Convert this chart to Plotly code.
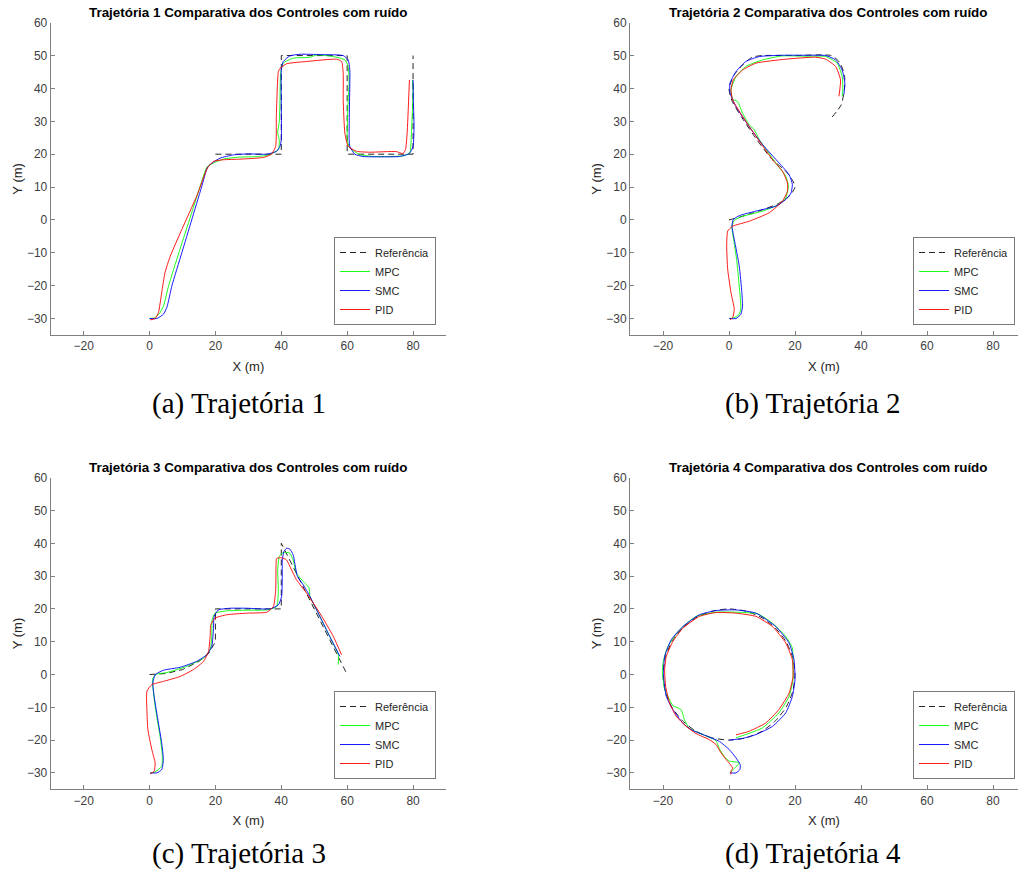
import plotly.graph_objects as go

# ---------------- Data ----------------
# Trajectory 1
t1_ref_x = [20, 40, 40, 60, 60, 80, 80]
t1_ref_y = [20, 20, 50, 50, 20, 20, 50]
t1_mpc_x = [0, 1.5, 3.0, 4.3, 5.8, 8.9, 12.1, 15.3, 17.5, 19.4, 22.4, 27, 33, 36.6, 39.1, 39.4, 38.9, 39.4, 39.6, 39.8, 40.6, 43.6, 48.7, 50.7, 55.8, 59.3, 60.3, 60.6, 60.3, 60.1, 60, 60.8, 63.8, 67.9, 73, 77, 79, 79.5, 79.8, 80, 79.8]
t1_mpc_y = [-30, -29.8, -28.5, -26, -20, -10, 0, 10, 16.2, 17.3, 18.5, 19.1, 19.3, 19.9, 21.4, 24.4, 26.4, 30, 36.5, 44.6, 47.7, 49.2, 49.5, 50.2, 49.7, 48.7, 46.7, 41.6, 36.5, 30, 24.4, 21.9, 19.9, 19.3, 19.3, 19.5, 20.4, 26.4, 33, 40, 42.6]
t1_smc_x = [0, 2.2, 4.2, 5.3, 6.8, 9.8, 12.8, 15.8, 17.6, 19.4, 21.4, 25.5, 30, 35.6, 38.6, 39.6, 40, 40, 40, 40.6, 42.6, 45.7, 52, 58.8, 60.3, 60.8, 60.7, 60.6, 60.8, 62.3, 64.8, 70, 75.9, 78.9, 80, 80.3, 80.1, 80]
t1_smc_y = [-30, -30, -28.7, -26.5, -20, -10, 0, 10, 16.0, 17.6, 18.8, 19.8, 20.1, 20, 20.9, 22.4, 24.4, 35, 45.6, 48.2, 49.9, 50.4, 50.3, 50, 48.7, 45.6, 35, 24.4, 22.4, 20, 19.3, 19.2, 19.3, 20.2, 22.4, 28.5, 36, 42.6]
t1_pid_x = [0.2, 1.7, 2.7, 3.7, 4.7, 6.3, 9.8, 14.3, 17.6, 19.4, 22.4, 27.5, 34.5, 37, 38.3, 38.5, 39.1, 39.6, 41.6, 47.7, 56.8, 58.3, 58.8, 58.8, 59.3, 60.3, 62.8, 66.8, 74.9, 76.9, 77.7, 78.2, 78.9]
t1_pid_y = [-30.4, -30, -28.2, -22.1, -16, -11, -2.9, 7.2, 15.8, 17.8, 18.3, 18.5, 19, 20, 22.4, 31.5, 45.1, 46.1, 47.5, 48.2, 48.9, 48.2, 44.6, 36.5, 26.4, 22.4, 20.9, 20.6, 20.8, 20.2, 21.4, 26.4, 42.6]

# Trajectory 2
t2_ref_x = [0, 3, 9, 15, 18.5, 20, 19, 17, 13, 8, 4, 1, 0, 1.5, 4, 7, 10, 20, 31, 33.5, 35, 35, 34, 31]
t2_ref_y = [0, 0.8, 2.7, 5, 7.5, 10, 12.5, 15, 18.5, 25, 31, 36, 40, 44, 47, 49.5, 50, 50, 50, 48, 44, 40, 35, 31]
t2_mpc_x = [0.1, 1.5, 3.1, 3.6, 3.1, 2.3, 1.1, 0.9, 1.6, 4.1, 10.2, 15.2, 17.2, 18, 17.2, 14.2, 9.2, 7.7, 6.1, 4.1, 2.6, 1.1, 0.6, 2.1, 5.1, 10.2, 16.2, 23, 29.3, 32.8, 34.3, 34.5, 34.3]
t2_mpc_y = [-30, -29.8, -28.7, -26.7, -20.1, -12, -3.9, -1.9, -0.1, 1.1, 2.7, 4.7, 6.7, 10.2, 13.3, 17.3, 24.4, 27.4, 29, 32.5, 36, 36.7, 39.6, 43.6, 46.7, 48.7, 49.9, 49.8, 49.7, 47.7, 43.6, 39.6, 37.6]
t2_smc_x = [0.1, 2.1, 3.6, 4.1, 3.9, 3.1, 1.6, 0.9, 1.3, 3.1, 8.2, 14.2, 17.2, 18.8, 19.2, 18.2, 15.2, 10.2, 6.1, 2.1, 0.3, 0.3, 2.1, 5.1, 9.2, 16.2, 23, 29.3, 32.3, 34.3, 35.1, 34.8]
t2_smc_y = [-30, -30, -28.7, -26.2, -22.1, -14, -5.9, -1.9, 0.1, 1.3, 2.7, 4.2, 6.2, 8.2, 10.8, 13.8, 17.3, 22.9, 28.4, 34.5, 38.6, 41.6, 45.1, 48.2, 49.7, 50.1, 50.1, 50, 48.7, 45.6, 41.6, 38.1]
t2_pid_x = [0.3, 1.1, 1.6, 0.6, -0.4, -0.7, -0.4, 1.1, 6.1, 12.2, 16.2, 17.7, 17.7, 16.2, 13.2, 8.2, 4.1, 1.1, 0.6, 1.3, 4.1, 8.2, 17.2, 26.3, 29.3, 32.3, 33.8, 33.3]
t2_pid_y = [-30.4, -29.7, -27.2, -22.1, -15, -8, -3.4, -1.9, -0.4, 2.2, 5.7, 8.7, 11.3, 14.8, 18.3, 25.4, 31.5, 36.5, 39.6, 42.6, 45.6, 47.7, 48.9, 49.5, 48.9, 46.7, 42.6, 37.6]

# Trajectory 3
t3_ref_x = [0, 5, 10, 15, 18, 20, 20, 40, 40, 60]
t3_ref_y = [0, 0.3, 1.5, 4, 6.5, 10, 20, 20, 40, 0]
t3_mpc_x = [0.2, 1.5, 3.7, 3.9, 3.2, 2, 1, 1, 2.2, 5.3, 11.3, 16.4, 18.4, 18.9, 19, 19.9, 23.4, 29.5, 35.6, 38.6, 39.1, 38.9, 39.4, 40.6, 42.6, 43.6, 44.6, 46.7, 48.4, 48.7, 50.7, 52.7, 54.7, 57.3, 57.3]
t3_mpc_y = [-30, -29.8, -28, -24.9, -18.8, -11.7, -3.6, -1.1, 0.1, 0.6, 2.5, 5, 7.5, 11.6, 16.7, 18.7, 19.4, 19.6, 19.7, 20.7, 25.8, 31.9, 36, 37.2, 37, 34.9, 30.9, 28.3, 26.5, 23.8, 19.7, 15.7, 11.6, 6, 3]
t3_smc_x = [0.2, 2.2, 3.7, 4.2, 3.7, 2.7, 1.4, 1, 1.7, 4.2, 9.3, 14.3, 17.4, 18.9, 19.4, 19.6, 20.9, 24.4, 29.5, 36.6, 39.1, 40.1, 40.3, 40.3, 40.8, 41.6, 42.6, 43.6, 44.1, 44.9, 46.7, 48.7, 51.7, 54.7, 57.8]
t3_smc_y = [-30, -30, -29, -26, -20.9, -14.8, -6.7, -2.6, -0.1, 1.3, 2.2, 4, 6, 8.6, 13.6, 17.7, 19.7, 20.2, 20.2, 20, 21.2, 23.8, 30.9, 34.9, 37.5, 38.5, 38.2, 36.5, 33.9, 29.9, 27.3, 23.8, 17.7, 11.6, 5.5]
t3_pid_x = [0.2, 1.4, 1.7, 0.7, -0.5, -0.8, -0.8, 0.7, 4.2, 9.3, 13.3, 16.4, 17.9, 18.4, 18.6, 19.9, 23.4, 29.5, 35.6, 37.6, 38.3, 38.4, 38.6, 40.1, 41.6, 43.1, 44.6, 47.7, 51.7, 55.8, 58.3]
t3_pid_y = [-30.3, -29.5, -27, -22.9, -16.8, -10.7, -5.1, -3.1, -2.1, -0.6, 1.5, 4, 7, 11.6, 15.2, 17.2, 18.2, 18.7, 19, 20.7, 25.8, 32.9, 35.4, 35.6, 34.9, 31.9, 28.9, 24.8, 18.7, 11.6, 6]

# Trajectory 4
t4_ref_x = [0, -5.2, -10, -14.1, -17.3, -19.3, -20, -19.3, -17.3, -14.1, -10, -5.2, 0, 5.2, 10, 14.1, 17.3, 19.3, 20, 19.3, 17.3, 14.1, 10, 5.2, 0]
t4_ref_y = [-20, -19.3, -17.3, -14.1, -10, -5.2, 0, 5.2, 10, 14.1, 17.3, 19.3, 20, 19.3, 17.3, 14.1, 10, 5.2, 0, -5.2, -10, -14.1, -17.3, -19.3, -20]
t4_mpc_x = [0.3, 1.3, 3.1, 1.5, 0.1, -1.4, -2.9, -4.1, -6.9, -12, -13.5, -14.5, -17, -18.5, -19.5, -20.2, -19.8, -18.5, -15, -10, -3.9, 2.1, 8.7, 13.2, 17.2, 19.2, 19.4, 19.4, 18.2, 15.1, 10.1, 5.1, 2.1]
t4_mpc_y = [-30, -29, -26.9, -26.6, -26.4, -25.1, -22.6, -20, -18.8, -16.4, -13.8, -10.7, -9.5, -6.7, -4.6, 1.5, 4.5, 8.6, 13.6, 17.7, 19, 19, 18.5, 15.6, 11.6, 8.1, 4.5, -1.6, -6.7, -11.7, -16.3, -18.3, -19.3]
t4_smc_x = [0.3, 2.1, 3.3, 3.4, 2.1, 0.1, -2.9, -6.9, -11.5, -14, -17, -19, -19.8, -19.5, -17.5, -14, -9, -3.9, 2.1, 8.2, 14.2, 18.2, 19.7, 20, 19.2, 17.2, 13.2, 8.2, 4.1, 0.1]
t4_smc_y = [-30, -30, -29, -27.5, -25.4, -22.9, -20.4, -18.7, -16.8, -14.8, -10.7, -6.7, -0.6, 5.5, 10.6, 14.6, 18.2, 19.5, 19.7, 18.7, 14.6, 9.6, 4.5, -1.6, -6.7, -11.7, -15.8, -18.3, -19.5, -20]
t4_pid_x = [0.6, 0.6, 1.1, -0.4, -2.4, -3.9, -5.9, -10, -13, -16, -18, -19.2, -19.5, -19, -17, -14, -9, -3.9, 2.1, 8.2, 13.2, 17.2, 19.2, 19.4, 18.2, 15.1, 11.1, 6.1, 2.1]
t4_pid_y = [-30.5, -29.5, -28.5, -26.5, -23.9, -21.4, -19.9, -18, -15.8, -12.7, -8.7, -3.6, 1.5, 5.5, 10.1, 14.1, 17.7, 18.9, 18.7, 17.7, 14.6, 9.6, 4.5, -0.7, -5.7, -10.7, -14.8, -17.3, -18.4]

series_names = ["Referência", "MPC", "SMC", "PID"]
titles = ["Trajetória 1 Comparativa dos Controles com ruído",
          "Trajetória 2 Comparativa dos Controles com ruído",
          "Trajetória 3 Comparativa dos Controles com ruído",
          "Trajetória 4 Comparativa dos Controles com ruído"]
captions = ["(a) Trajetória 1", "(b) Trajetória 2", "(c) Trajetória 3", "(d) Trajetória 4"]
x_ticks = [-20, 0, 20, 40, 60, 80]
y_ticks = [-30, -20, -10, 0, 10, 20, 30, 40, 50, 60]

panels = [
    (t1_ref_x, t1_ref_y, t1_mpc_x, t1_mpc_y, t1_smc_x, t1_smc_y, t1_pid_x, t1_pid_y),
    (t2_ref_x, t2_ref_y, t2_mpc_x, t2_mpc_y, t2_smc_x, t2_smc_y, t2_pid_x, t2_pid_y),
    (t3_ref_x, t3_ref_y, t3_mpc_x, t3_mpc_y, t3_smc_x, t3_smc_y, t3_pid_x, t3_pid_y),
    (t4_ref_x, t4_ref_y, t4_mpc_x, t4_mpc_y, t4_smc_x, t4_smc_y, t4_pid_x, t4_pid_y),
]

# ---------------- Layout geometry ----------------
W, H = 1018, 872
FONT = "Liberation Sans, Arial, sans-serif"
ax_px = [  # left, right, top, bottom in pixels
    (50.7, 446.0, 22.7, 335.0),
    (630.0, 1026.0, 22.7, 335.0),
    (50.7, 446.0, 477.7, 789.3),
    (630.0, 1026.0, 477.7, 789.3),
]
legend_px = [(436, 325), (1015, 325), (436, 779), (1015, 779)]
caption_px = [(239, 403), (813, 403), (239, 853), (813, 853)]
ref_shape = ["linear", "spline", "linear", "spline"]

colors = ["#262626", "#00ff00", "#0000ff", "#ff0000"]

fig = go.Figure()
layout = dict(
    width=W, height=H,
    margin=dict(l=0, r=0, t=0, b=0),
    paper_bgcolor="white", plot_bgcolor="white",
    font=dict(family=FONT, color="#262626"),
    annotations=[],
)

for i, (pdata, (l, r, t, b)) in enumerate(zip(panels, ax_px)):
    sfx = "" if i == 0 else str(i + 1)
    xa, ya = "x" + sfx, "y" + sfx
    lg = "legend" + sfx
    xs = [pdata[0], pdata[2], pdata[4], pdata[6]]
    ys = [pdata[1], pdata[3], pdata[5], pdata[7]]
    for k in range(4):
        if k == 0:
            line = dict(color=colors[k], width=1, dash="6px,4px", shape=ref_shape[i], smoothing=0.6)
        else:
            line = dict(color=colors[k], width=0.9, shape="spline", smoothing=0.5)
        fig.add_trace(go.Scatter(x=xs[k], y=ys[k], mode="lines", name=series_names[k],
                                 line=line, xaxis=xa, yaxis=ya, legend=lg,
                                 hoverinfo="skip"))
    # axis domain / range; axis may extend past page edge (panel b, d)
    px_per_unit = (r - l) / 120.0
    right_vis = min(r, W)
    xmax = -30 + (right_vis - l) / px_per_unit
    xdom = [l / W, right_vis / W]
    ydom = [1 - b / H, 1 - t / H]
    axis_common = dict(showline=True, linecolor="#808080", linewidth=1, ticks="inside",
                       ticklen=4, tickcolor="#808080", showgrid=False, zeroline=False,
                       tickfont=dict(family=FONT, size=12, color="#404040"),
                       automargin=False, fixedrange=True)
    layout["xaxis" + sfx] = dict(domain=xdom, range=[-30, xmax], tickvals=x_ticks,
                                 anchor=ya, title=dict(text="X (m)", standoff=9,
                                 font=dict(family=FONT, size=13, color="#262626")),
                                 **axis_common)
    layout["yaxis" + sfx] = dict(domain=ydom, range=[-35, 60], tickvals=y_ticks,
                                 anchor=xa, title=dict(text="Y (m)", standoff=1,
                                 font=dict(family=FONT, size=13, color="#262626")),
                                 **axis_common)
    lx, ly = legend_px[i]
    layout[lg] = dict(x=lx / W, y=1 - ly / H, xanchor="right", yanchor="bottom",
                      bgcolor="white", bordercolor="#7a7a7a", borderwidth=1,
                      font=dict(family=FONT, size=11, color="#262626"),
                      tracegroupgap=0)
    cx = ((l + r) / 2) / W
    layout["annotations"].append(dict(text=titles[i], x=cx, y=1 - (t - 10) / H,
                                      xref="paper", yref="paper", showarrow=False,
                                      xanchor="center", yanchor="middle",
                                      font=dict(family=FONT, size=13.4, color="#000000", weight="bold")))
    capx, capy = caption_px[i]
    layout["annotations"].append(dict(text=captions[i], x=capx / W, y=1 - capy / H,
                                      xref="paper", yref="paper", showarrow=False,
                                      xanchor="center", yanchor="middle",
                                      font=dict(family="Liberation Serif, Times New Roman, serif",
                                                size=29, color="#000000")))

fig.update_layout(**layout)
fig.write_html("out.html", config={"displayModeBar": False})
